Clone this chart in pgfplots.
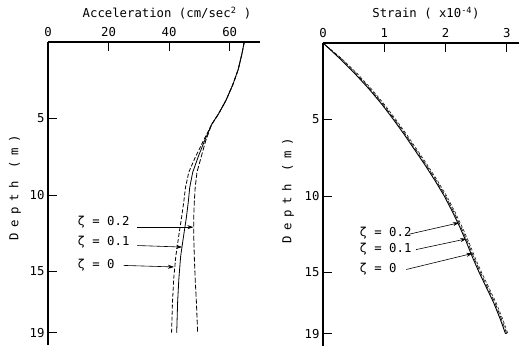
\documentclass[border=0pt]{standalone}
\usepackage{fontspec}
\setmainfont{DejaVu Sans Mono}
\newfontfamily\spaced[LetterSpace=45]{DejaVu Sans Mono}
\usepackage{pgfplots}
\pgfplotsset{compat=1.18}
\usetikzlibrary{arrows.meta}
\newcommand\lab{\fontsize{12.3}{13}\selectfont}

\pgfplotsset{
  depthplot/.style={
    scale only axis, height=303pt, y dir=reverse,
    ymin=0, ymax=19.8,
    axis x line=top, axis y line=left,
    axis line style={line width=1.1pt, -},
    tick align=inside, major tick length=9pt,
    tick style={black, line width=0.9pt},
    ytick={5,10,15,19},
    ticklabel style={font=\lab},
    xticklabel style={yshift=2pt},
    /pgf/number format/assume math mode=true,
    clip=false,
  },
}
\tikzset{zarrow/.style={line width=0.6pt, -{Stealth[length=6pt,width=4pt]}}}

\begin{document}
\begin{tikzpicture}
\useasboundingbox (0,0) rectangle (520pt,352pt);

% acceleration profile
\begin{axis}[depthplot, at={(48pt,310pt)}, anchor=north west,
  width=212pt, xmin=0, xmax=70, xtick={0,20,40,60}]
  % zeta = 0.2
  \addplot[black, line width=0.8pt, dash pattern=on 5pt off 2pt] coordinates {
    (64.8,0)(64.0,0.8)(62.8,1.8)(61.0,2.8)(58.8,3.8)(56.3,4.7)(54.0,5.4)
    (52.0,6.5)(50.6,7.5)(49.2,8.5)(48.6,9.5)(48.3,10.5)(48.1,11.6)(48.1,12.5)
    (48.3,14)(48.6,15.5)(49.0,17)(49.4,19)};
  % zeta = 0.1
  \addplot[black, line width=0.8pt] coordinates {
    (64.8,0)(64.0,0.8)(62.8,1.8)(61.0,2.8)(58.8,3.8)(56.3,4.7)(54.0,5.4)
    (51.6,6.5)(49.6,7.5)(47.8,8.5)(46.8,9.5)(46.3,10.5)(45.6,11.6)(44.9,12.5)
    (43.8,14)(43.2,15.5)(42.8,17)(42.5,19)};
  % zeta = 0
  \addplot[black, line width=0.8pt, dash pattern=on 4pt off 2pt] coordinates {
    (64.8,0)(64.0,0.8)(62.8,1.8)(61.0,2.8)(58.8,3.8)(56.3,4.7)(54.0,5.4)
    (51.2,6.5)(48.7,7.5)(46.5,8.5)(45.4,9.5)(44.8,10.5)(44.0,11.6)(43.3,12.5)
    (42.2,14)(41.5,15.5)(41.1,17)(40.8,19)};
  \node[anchor=west, font=\lab] at (axis cs:8.6,11.8) {ζ = 0.2};
  \node[anchor=west, font=\lab] at (axis cs:8.6,13.1) {ζ = 0.1};
  \node[anchor=west, font=\lab] at (axis cs:8.6,14.6) {ζ = 0};
  \draw[zarrow] (axis cs:29.5,12.1) -- (axis cs:48.0,12.1);
  \draw[zarrow] (axis cs:29.5,13.3) -- (axis cs:44.3,13.4);
  \draw[zarrow] (axis cs:25.0,14.6) -- (axis cs:41.6,14.7);
\end{axis}

% strain profile
\begin{axis}[depthplot, at={(323pt,309pt)}, anchor=north west,
  width=196pt, xmin=0, xmax=3.2, xtick={0,1,2,3}]
  % zeta = 0.2
  \addplot[black, line width=0.9pt] coordinates {
    (0,0)(0.27,1)(0.52,2)(0.75,3)(0.96,4)(1.15,5)(1.33,6)(1.50,7)(1.67,8)
    (1.83,9)(1.98,10)(2.11,11)(2.23,12)(2.34,13)(2.44,14)(2.55,15)(2.67,16)
    (2.79,17)(2.89,18)(2.98,19)};
  % zeta = 0.1
  \addplot[black, line width=0.6pt, dash pattern=on 5pt off 2pt] coordinates {
    (0,0)(0.29,1)(0.54,2)(0.77,3)(0.98,4)(1.17,5)(1.35,6)(1.52,7)(1.69,8)
    (1.85,9)(2.00,10)(2.13,11)(2.25,12)(2.36,13)(2.46,14)(2.57,15)(2.69,16)
    (2.81,17)(2.91,18)(3.00,19)};
  % zeta = 0
  \addplot[black, line width=0.5pt, dash pattern=on 3pt off 2pt] coordinates {
    (0,0)(0.30,1)(0.56,2)(0.79,3)(1.00,4)(1.19,5)(1.37,6)(1.54,7)(1.71,8)
    (1.87,9)(2.02,10)(2.15,11)(2.27,12)(2.38,13)(2.48,14)(2.59,15)(2.71,16)
    (2.83,17)(2.93,18)(3.02,19)};
  \node[anchor=west, font=\lab] at (axis cs:0.54,12.4) {ζ = 0.2};
  \node[anchor=west, font=\lab] at (axis cs:0.54,13.5) {ζ = 0.1};
  \node[anchor=west, font=\lab] at (axis cs:0.54,14.8) {ζ = 0};
  \draw[zarrow] (axis cs:1.40,12.5) -- (axis cs:2.22,11.75);
  \draw[zarrow] (axis cs:1.52,13.5) -- (axis cs:2.34,12.8);
  \draw[zarrow] (axis cs:1.36,14.8) -- (axis cs:2.44,13.75);
\end{axis}

% axis titles
\node[font=\lab] at (167pt,339pt) {Acceleration (cm/sec\textsuperscript{2} )};
\node[font=\lab] at (426pt,339pt) {Strain ( x10\textsuperscript{-4})};
\node[font=\lab\spaced, rotate=90] at (15pt,164pt) {Depth (m)};
\node[font=\lab\spaced, rotate=90] at (288pt,161pt) {Depth (m)};
\end{tikzpicture}
\end{document}
